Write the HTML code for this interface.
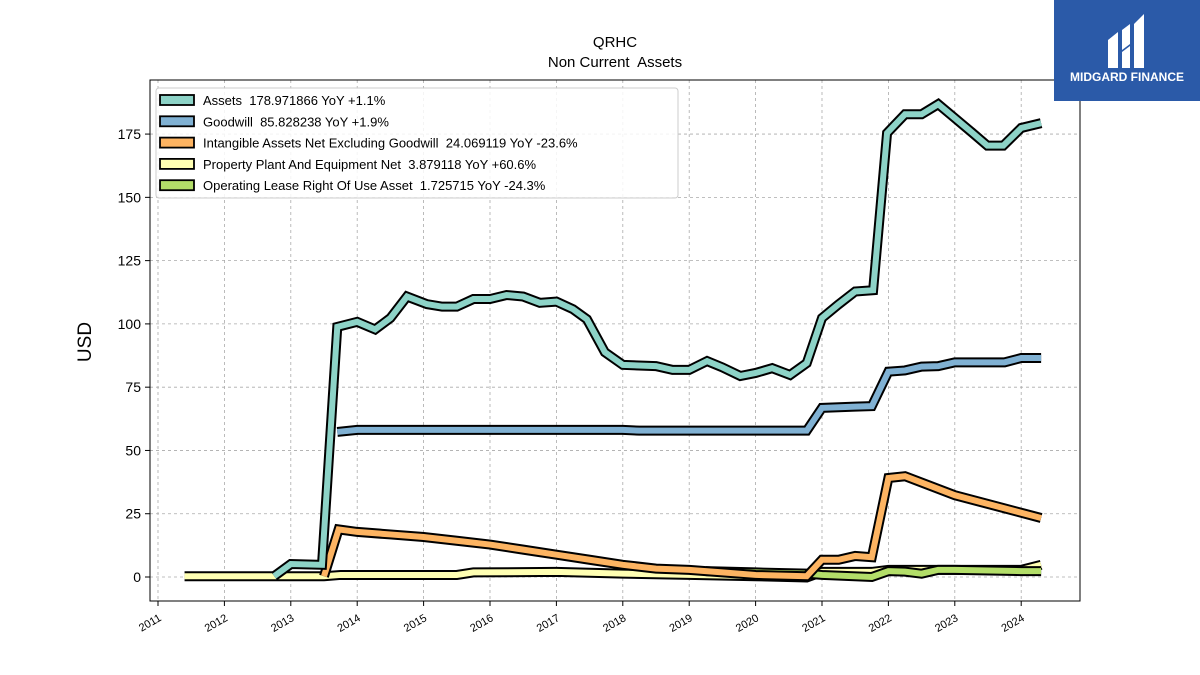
<!DOCTYPE html>
<html><head><meta charset="utf-8"><style>
body{margin:0;background:#fff;font-family:"Liberation Sans","DejaVu Sans",sans-serif}
svg{display:block}
.pre{white-space:pre}
</style></head><body>
<svg id="chart" width="1200" height="675" xmlns="http://www.w3.org/2000/svg">
<rect width="1200" height="675" fill="#fff"/>
<g id="grid"></g>
<g id="series"></g>
<rect x="150" y="80" width="930" height="521" fill="none" stroke="#000" stroke-width="1"/>
<g id="ticks"></g>
<text x="615" y="47" text-anchor="middle" font-size="15">QRHC</text>
<text x="615" y="67" text-anchor="middle" font-size="15" class="pre">Non Current  Assets</text>
<text x="91" y="342" text-anchor="middle" font-size="19" transform="rotate(-90 91 342)">USD</text>
<g id="legend"></g>
<g>
<rect x="1054" y="0" width="146" height="101" fill="#2b5aa8"/>
<path d="M1108 40 l10 -8 v36 h-10z M1122 30 l8 -6 v20 l-8 6z M1134 24 l10 -10 v54 h-10z M1122 52 l8 -6 v22 h-8z" fill="#fff"/>
<text x="1127" y="81" text-anchor="middle" font-size="12" font-weight="bold" fill="#fff">MIDGARD FINANCE</text>
</g>
</svg>
<script>
const NS="http://www.w3.org/2000/svg";
const yTicks=[0,25,50,75,100,125,150,175];
const xTicks=[2011,2012,2013,2014,2015,2016,2017,2018,2019,2020,2021,2022,2023,2024];
const assetsX=[2012.75,2013.0,2013.47,2013.7,2014.0,2014.27,2014.5,2014.75,2015.05,2015.28,2015.5,2015.75,2016.0,2016.25,2016.5,2016.75,2017.0,2017.25,2017.46,2017.73,2018.0,2018.5,2018.75,2019.0,2019.27,2019.5,2019.77,2020.0,2020.25,2020.52,2020.77,2021.0,2021.24,2021.5,2021.77,2021.98,2022.25,2022.5,2022.75,2023.0,2023.25,2023.49,2023.73,2024.0,2024.3];
const assetsV=[1.5,6.3,6,100,102,99,103.5,112,109,108,108,111,111,112.6,112,109.5,110,107,103,90,85,84.5,83,83,86.5,84,80.6,81.8,83.7,81,85.7,103.5,108.7,114,114.5,176.6,184,184,188,182.5,177,171.6,171.6,178.6,180.5];
const goodwillX=[2013.7,2014.0,2018.0,2018.25,2020.77,2021.0,2021.5,2021.75,2022.0,2022.25,2022.5,2022.75,2023.0,2023.75,2024.0,2024.3];
const goodwillV=[58.5,59.3,59.3,59,59,68,68.5,68.7,82.3,82.8,84.3,84.5,86,86,87.7,87.7];
const intangX=[2013.5,2013.72,2014.0,2014.5,2015.0,2015.5,2016.0,2016.5,2017.0,2017.5,2018.0,2018.5,2019.0,2019.5,2020.0,2020.77,2021.0,2021.25,2021.5,2021.75,2022.0,2022.25,2023.0,2024.3];
const intangV=[1.5,20,19,18,17,15.5,14,12,10,8,6,4.5,4,3,2,1.5,8,8,9.5,9,40.3,41,33.5,24.5];
const ppeX=[2011.4,2013.5,2013.75,2015.5,2015.75,2017.0,2018.0,2019.0,2020.0,2020.77,2021.0,2021.75,2022.0,2023.0,2024.0,2024.3];
const ppeV=[1.5,1.5,2,2,3,3.2,2.5,2,1.5,1,3.2,3.2,4,4,4,6];
const leaseX=[2019.25,2020.0,2020.77,2021.0,2021.75,2022.0,2022.25,2022.5,2022.75,2023.0,2024.0,2024.3];
const leaseV=[3.5,3,2.5,2,1.2,3.5,3.3,2.5,4,4,3.5,3.5];
const legendLabels=["Assets  178.971866 YoY +1.1%","Goodwill  85.828238 YoY +1.9%","Intangible Assets Net Excluding Goodwill  24.069119 YoY -23.6%","Property Plant And Equipment Net  3.879118 YoY +60.6%","Operating Lease Right Of Use Asset  1.725715 YoY -24.3%"];
const colors=["#8dd3c7","#80b1d3","#fdb462","#ffffb3","#b3de69"];
const X=y=>158+(y-2011)*66.4;
const Y=v=>577-v*2.531;
function mk(t,a,p){const e=document.createElementNS(NS,t);for(const k in a)e.setAttribute(k,a[k]);p.appendChild(e);return e;}
const grid=document.getElementById('grid'),ticks=document.getElementById('ticks');
yTicks.forEach(v=>{
 const l=mk('line',{x1:150,x2:1080,y1:Y(v),y2:Y(v),stroke:'#aaa','stroke-dasharray':'3,3','stroke-width':0.8},grid);
 
 
 mk('line',{x1:145,x2:150,y1:Y(v),y2:Y(v),stroke:'#000'},ticks);
 const t=mk('text',{x:141,y:Y(v)+5,'text-anchor':'end','font-size':14},ticks);t.textContent=v;
 
 
});
xTicks.forEach(v=>{
 const l=mk('line',{x1:X(v),x2:X(v),y1:80,y2:601,stroke:'#aaa','stroke-dasharray':'3,3','stroke-width':0.8},grid);
 
 
 mk('line',{x1:X(v),x2:X(v),y1:601,y2:606,stroke:'#000'},ticks);
 const t=mk('text',{x:X(v)+4,y:620,'text-anchor':'end','font-size':11,transform:`rotate(-30 ${X(v)+4} 620)`},ticks);t.textContent=v;
 
 
});
const ser=document.getElementById('series');
const all=[[assetsX,assetsV],[goodwillX,goodwillV],[intangX,intangV],[ppeX,ppeV],[leaseX,leaseV]];
const names=['assets-line','goodwill-line','intangible-line','ppe-line','lease-line'];
[3,4,2,1,0].forEach(i=>{
 const [xs,vs]=all[i];
 const pts=xs.map((x,j)=>X(x)+','+(Y(vs[j])+3)).join(' ');
 const g=mk('g',{},ser);
 
 
 mk('polyline',{points:pts,fill:'none',stroke:'#000','stroke-width':10,'stroke-linejoin':'miter'},g);
 mk('polyline',{points:pts,fill:'none',stroke:colors[i],'stroke-width':6,'stroke-linejoin':'miter'},g);
});
const lg=document.getElementById('legend');
mk('rect',{x:156,y:88,width:522,height:110,rx:3,fill:'#fff','fill-opacity':0.85,stroke:'#ccc'},lg);
legendLabels.forEach((s,i)=>{
 const y=100+i*21.3;
 const r=mk('rect',{x:160,y:y-5,width:34,height:10,fill:colors[i],stroke:'#000','stroke-width':1.8},lg);
 
 
 const t=mk('text',{x:203,y:y+5,'font-size':13,'class':'pre'},lg);t.textContent=s;
 
 
});
</script>
</body></html>
